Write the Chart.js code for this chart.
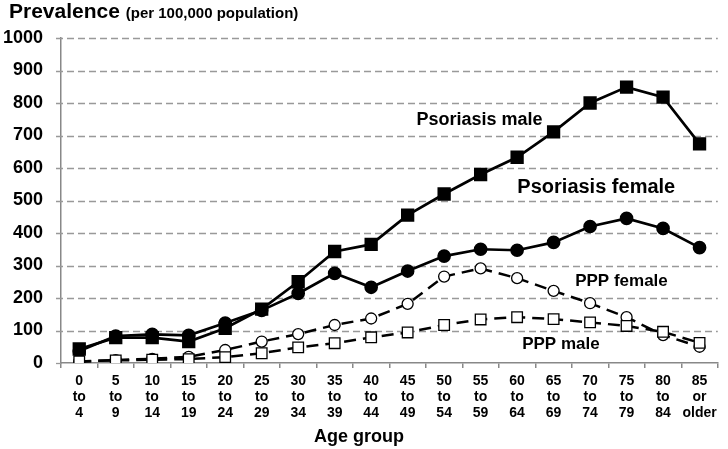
<!DOCTYPE html>
<html>
<head>
<meta charset="utf-8">
<script src="https://cdn.jsdelivr.net/npm/chart.js@4"></script>
<style>
    html, body { margin: 0; padding: 0; background: #fff; }
    #wrap { width: 728px; height: 449px; }
</style>
</head>
<body>
<div id="wrap"><canvas id="prevChart"></canvas></div>
<script>
const ageGroups = [
    ['0', 'to', '4'], ['5', 'to', '9'], ['10', 'to', '14'], ['15', 'to', '19'],
    ['20', 'to', '24'], ['25', 'to', '29'], ['30', 'to', '34'], ['35', 'to', '39'],
    ['40', 'to', '44'], ['45', 'to', '49'], ['50', 'to', '54'], ['55', 'to', '59'],
    ['60', 'to', '64'], ['65', 'to', '69'], ['70', 'to', '74'], ['75', 'to', '79'],
    ['80', 'to', '84'], ['85', 'or', 'older']
];
const psoriasisMale = [43, 78, 78, 66, 107, 166, 250, 343, 365, 455, 520, 580, 633, 711, 800, 849, 818, 674];
const psoriasisFemale = [37, 83, 88, 85, 123, 162, 214, 276, 233, 283, 329, 350, 347, 371, 420, 445, 414, 355];
const pppFemale = [4, 9, 13, 19, 40, 66, 89, 117, 137, 182, 266, 291, 261, 222, 184, 141, 86, 50];
const pppMale = [5, 8, 10, 12, 18, 30, 48, 61, 79, 94, 117, 134, 141, 135, 125, 114, 96, 62];
const yTicks = [0, 100, 200, 300, 400, 500, 600, 700, 800, 900, 1000];

const fontFamily = '"Liberation Sans", Arial, sans-serif';

// Series names written inside the plot, placed by (category index, value)
const seriesLabels = [
    { text: 'Psoriasis male', x: 10.97, y: 748, size: 18 },
    { text: 'Psoriasis female', x: 14.17, y: 541, size: 20 },
    { text: 'PPP female', x: 14.86, y: 252, size: 17 },
    { text: 'PPP male', x: 13.2, y: 58, size: 17 }
];

const textPlugin = {
    id: 'textPlugin',
    beforeDatasetsDraw(chart) {
        // dashed horizontal grid lines + short ticks left of the axis
        const c = chart.ctx;
        const ys = chart.scales.y;
        const area = chart.chartArea;
        c.save();
        c.strokeStyle = '#999';
        c.lineWidth = 1.3;
        yTicks.forEach(v => {
            const py = Math.round(ys.getPixelForValue(v)) + 0.5;
            c.setLineDash(v === 0 ? [] : [7, 4]);
            c.beginPath();
            c.moveTo(area.left - 5, py);
            c.lineTo(v === 0 ? area.left : area.right, py);
            c.stroke();
        });
        c.restore();
    },
    afterDraw(chart) {
        const c = chart.ctx;
        const xs = chart.scales.x;
        const ys = chart.scales.y;
        c.save();
        c.fillStyle = '#000';
        c.textBaseline = 'middle';

        // heading
        c.textAlign = 'left';
        c.font = 'bold 21px ' + fontFamily;
        c.fillText('Prevalence', 9, 12);
        const w = c.measureText('Prevalence ').width;
        c.font = 'bold 15px ' + fontFamily;
        c.fillText('(per 100,000 population)', 9 + w, 14);

        // x axis title
        c.textAlign = 'center';
        c.font = 'bold 18px ' + fontFamily;
        c.fillText('Age group', 359, 437);

        seriesLabels.forEach(l => {
            const px = xs.left + (xs.right - xs.left) * (l.x + 0.5) / ageGroups.length;
            c.font = 'bold ' + l.size + 'px ' + fontFamily;
            c.fillText(l.text, px, ys.getPixelForValue(l.y));
        });
        c.restore();
    }
};

const ctx = document.getElementById('prevChart');
const myLineChart = new Chart(ctx, {
    type: 'line',
    data: {
        labels: ageGroups,
        datasets: [
            {
                label: 'PPP male',
                data: pppMale,
                borderColor: '#000',
                borderWidth: 2.5,
                borderDash: [12, 7],
                pointStyle: 'rect',
                pointRadius: 7.5,
                pointBackgroundColor: '#fff',
                pointBorderColor: '#000',
                pointBorderWidth: 1.3
            },
            {
                label: 'PPP female',
                data: pppFemale,
                borderColor: '#000',
                borderWidth: 2.5,
                borderDash: [12, 7],
                pointStyle: 'circle',
                pointRadius: 5.5,
                pointBackgroundColor: '#fff',
                pointBorderColor: '#000',
                pointBorderWidth: 1.3
            },
            {
                label: 'Psoriasis female',
                data: psoriasisFemale,
                borderColor: '#000',
                borderWidth: 2.7,
                pointStyle: 'circle',
                pointRadius: 5.5,
                pointBackgroundColor: '#000',
                pointBorderColor: '#000'
            },
            {
                label: 'Psoriasis male',
                data: psoriasisMale,
                borderColor: '#000',
                borderWidth: 2.7,
                pointStyle: 'rect',
                pointRadius: 7.5,
                pointBackgroundColor: '#000',
                pointBorderColor: '#000'
            }
        ]
    },
    options: {
        responsive: true,
        maintainAspectRatio: false,
        animation: false,
        layout: { padding: { top: 38, right: 3, left: 0, bottom: 0 } },
        plugins: {
            legend: { display: false },
            tooltip: { enabled: false }
        },
        scales: {
            x: {
                offset: true,
                grid: {
                    offset: true,
                    drawOnChartArea: false,
                    drawTicks: true,
                    tickLength: 5,
                    color: '#888',
                    lineWidth: 1.5
                },
                border: { color: '#888', width: 1.5 },
                ticks: {
                    color: '#000',
                    padding: 5,
                    maxRotation: 0,
                    autoSkip: false,
                    font: { family: fontFamily, size: 14, weight: 'bold', lineHeight: 1.15 }
                },
                afterFit(scale) { scale.height = 86; }
            },
            y: {
                min: 0,
                max: 1000,
                afterBuildTicks(scale) { scale.ticks = yTicks.map(v => ({ value: v })); },
                grid: { display: false },
                border: { color: '#888', width: 1.5 },
                ticks: {
                    color: '#000',
                    padding: 10,
                    callback: v => String(v),
                    font: { family: fontFamily, size: 18, weight: 'bold' }
                },
                afterFit(scale) { scale.width = 61; }
            }
        }
    },
    plugins: [textPlugin]
});
</script>
</body>
</html>
